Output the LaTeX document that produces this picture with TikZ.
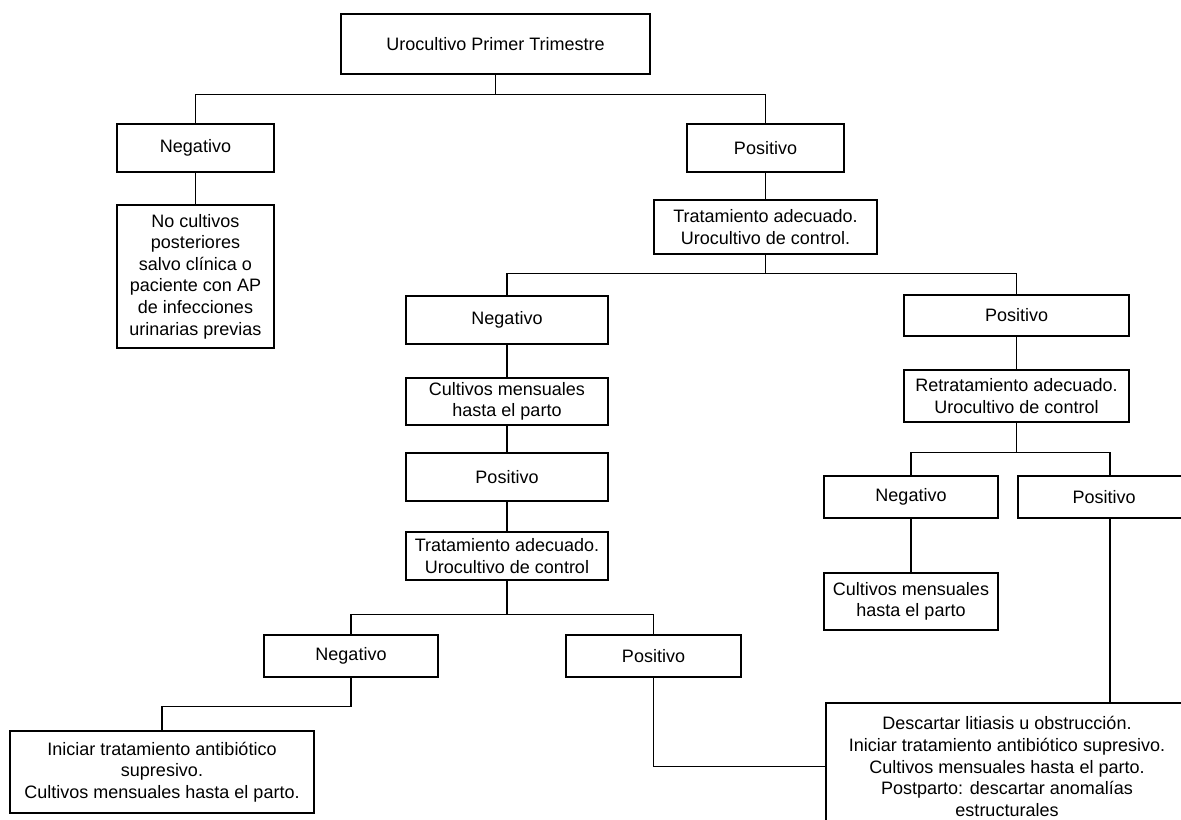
\documentclass[tikz,border=0pt]{standalone}
\usepackage{fontspec}
\setmainfont{Liberation Sans}
\usetikzlibrary{calc}
\tikzset{
  bx/.style={draw=black, line width=0.9pt, fill=white, align=center, inner sep=0pt,
    font=\fontsize{13.5}{16.2}\selectfont},
  ln/.style={draw=black, line width=0.9pt},
}
\newcommand{\bxsize}[2]{minimum width=#1*0.75pt, minimum height=#2*0.75pt}
\begin{document}
\begin{tikzpicture}[x=0.75pt, y=-0.75pt]
\useasboundingbox (0,0) rectangle (1181,820);
\clip (0,0) rectangle (1181,820);
\fill[white] (0,0) rectangle (1181,820);
% nodes
\node[bx, minimum width=231.75pt, minimum height=45pt] (top) at (495.5,44) {Urocultivo Primer Trimestre};
\node[bx, minimum width=117.75pt, minimum height=36pt] (neg1) at (195.5,148) {Negativo};
\node[bx, minimum width=117.75pt, minimum height=107.25pt] (nocult) at (195.5,276.5) {No cultivos\\posteriores\\salvo clínica o\\paciente con AP\\de infecciones\\urinarias previas};
\node[bx, minimum width=117.75pt, minimum height=36pt] (pos1) at (765.5,148) {Positivo};
\node[bx, minimum width=167.25pt, minimum height=40.5pt] (trat1) at (765.5,227) {Tratamiento adecuado.\\Urocultivo de control.};
\node[bx, minimum width=151.5pt, minimum height=36pt] (neg2) at (507,320) {Negativo};
\node[bx, minimum width=151.5pt, minimum height=35.25pt] (cult2) at (507,401.5) {Cultivos mensuales\\hasta el parto};
\node[bx, minimum width=151.5pt, minimum height=36pt] (pos3) at (507,477) {Positivo};
\node[bx, minimum width=151.5pt, minimum height=36pt] (trat2) at (507,556) {Tratamiento adecuado.\\Urocultivo de control};
\node[bx, minimum width=168.75pt, minimum height=30.75pt] (pos2) at (1016.5,315.5) {Positivo};
\node[bx, minimum width=168.75pt, minimum height=39pt] (retrat) at (1016.5,396) {Retratamiento adecuado.\\Urocultivo de control};
\node[bx, minimum width=130.5pt, minimum height=31.5pt] (neg5) at (911,497) {Negativo};
\node[bx, minimum width=138pt, minimum height=31.5pt] (pos5) at (1110,497) {\hspace*{-9pt}Positivo};
\node[bx, minimum width=130.5pt, minimum height=42.75pt] (cult5) at (911,601.5) {Cultivos mensuales\\hasta el parto};
\node[bx, minimum width=130.5pt, minimum height=31.5pt] (neg3) at (351,656) {Negativo};
\node[bx, minimum width=131.25pt, minimum height=31.5pt] (pos4) at (653.5,656) {Positivo};
\node[bx, minimum width=228pt, minimum height=61.5pt] (init) at (162,772) {Iniciar tratamiento antibiótico\\supresivo.\\Cultivos mensuales hasta el parto.};
\node[bx, minimum width=271.5pt, minimum height=95.25pt] (desc) at (1007,766.5) {Descartar litiasis u obstrucción.\\Iniciar tratamiento antibiótico supresivo.\\Cultivos mensuales hasta el parto.\\Postparto: descartar anomalías\\estructurales};
% connectors
\coordinate (b1) at ($(top.south)+(0,20)$);
\draw[ln] (top.south) -- (b1) -| (neg1.north);
\draw[ln] (b1) -| (pos1.north);
\draw[ln] (neg1.south) -- (nocult.north);
\draw[ln] (pos1.south) -- (trat1.north);
\coordinate (b2) at ($(trat1.south)+(0,19)$);
\draw[ln] (trat1.south) -- (b2) -| (neg2.north);
\draw[ln] (b2) -| (pos2.north);
\draw[ln] (neg2.south) -- (cult2.north);
\draw[ln] (cult2.south) -- (pos3.north);
\draw[ln] (pos3.south) -- (trat2.north);
\coordinate (b3) at ($(trat2.south)+(0,34)$);
\draw[ln] (trat2.south) -- (b3) -| (neg3.north);
\draw[ln] (b3) -| (pos4.north);
\draw[ln] (pos2.south) -- (retrat.north);
\coordinate (b4) at ($(retrat.south)+(0,30)$);
\draw[ln] (retrat.south) -- (b4) -| (neg5.north);
\draw[ln] (b4) -| (pos5.north);
\draw[ln] (neg5.south) -- (cult5.north);
\coordinate (b5) at ($(neg3.south)+(0,29)$);
\draw[ln] (neg3.south) -- (b5) -| (init.north);
\draw[ln] (pos4.south) |- (desc.west);
\draw[ln] (pos5.south) -- (pos5.south |- desc.north);
\end{tikzpicture}
\end{document}
